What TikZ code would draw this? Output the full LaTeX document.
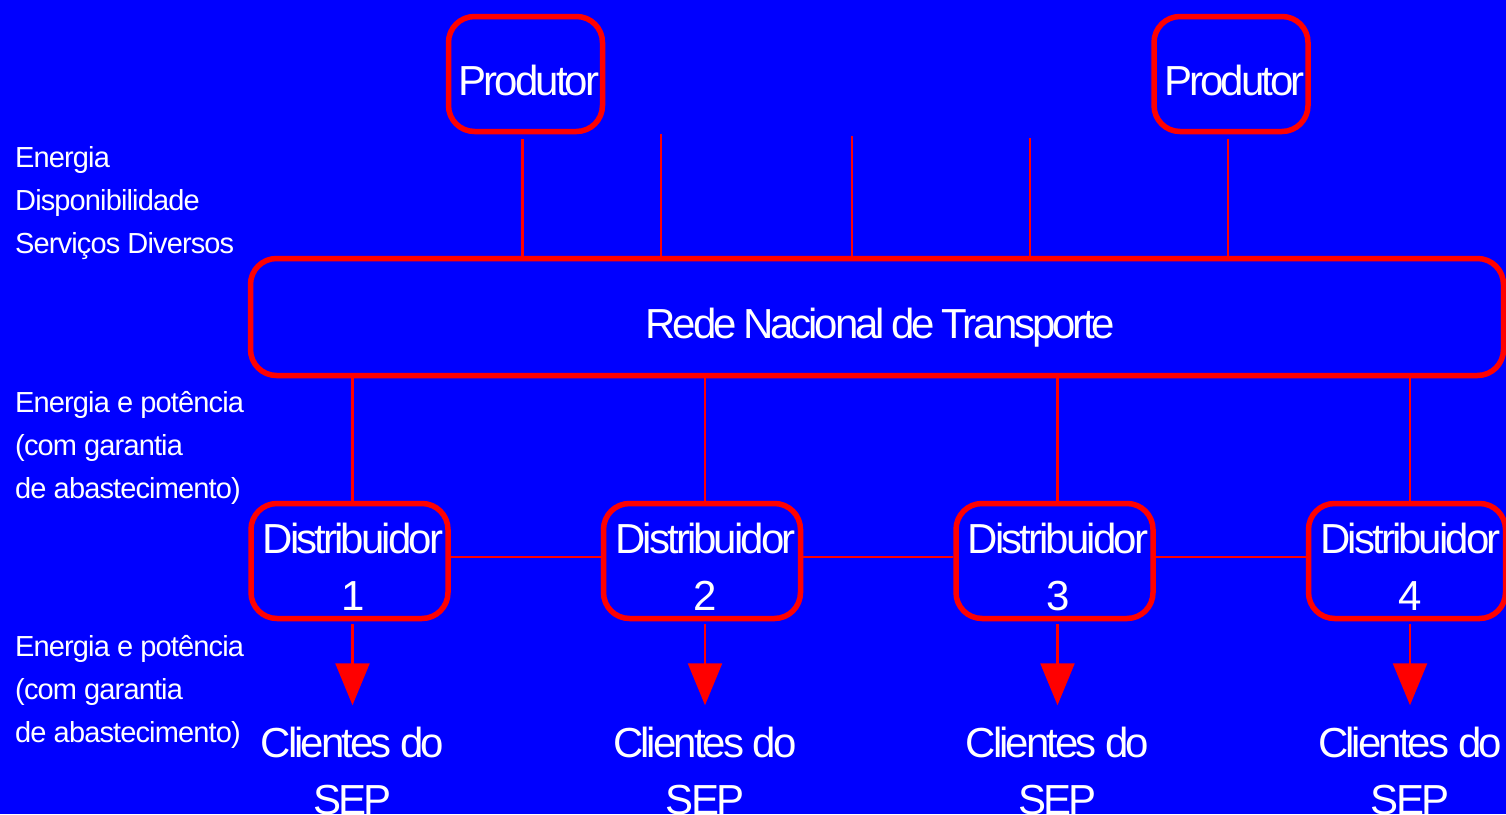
\documentclass[tikz,border=0pt]{standalone}
\usepackage{fontspec}
\setmainfont{Liberation Sans}
\usepackage{tikz}
\usetikzlibrary{arrows.meta,positioning}
\tikzset{>/.tip={Triangle[width=34pt,length=42pt]}}
\definecolor{fundo}{RGB}{0,0,255}
\definecolor{borda}{RGB}{255,0,0}
\newfontfamily\grande[LetterSpace=-7]{Liberation Sans}
\newfontfamily\grandeR[LetterSpace=-7.5,WordSpace=0.8]{Liberation Sans}
\newfontfamily\pequeno[LetterSpace=-3]{Liberation Sans}
\newcommand{\fonteG}{\grande\fontsize{42}{57}\selectfont}
\newcommand{\fonteP}{\pequeno\fontsize{29}{43}\selectfont}
\newcommand{\topo}{\rule{0pt}{42pt}}
\def\desl{\kern7pt}
\tikzset{
  caixa/.style={draw=borda,line width=5.5pt,rounded corners=26pt,fill=fundo,
    text=white,inner sep=0pt,font=\fonteG,align=center},
  caixaum/.style={caixa,text height=42pt,text depth=0pt},
  fio/.style={draw=borda,line width=2.5pt},
  seta/.style={fio,->,shorten >=10pt,shorten <=3pt},
  rotulo/.style={text=white,inner sep=0pt,font=\fonteP,align=left,anchor=north west},
  cliente/.style={text=white,inner sep=0pt,outer sep=0pt,font=\fonteG,align=center,xshift=3pt}
}

\begin{document}
\begin{tikzpicture}[x=1pt,y=-1pt]
        \fill[fundo] (0,0) rectangle (1506,814);
        \useasboundingbox (0,0) rectangle (1506,814);
        % produtores e rede
        \node(Prod1)[caixaum,minimum width=154pt,minimum height=115pt] at (525.5,74) {\desl Produtor};
        \node(Prod2)[caixaum,minimum width=154pt,minimum height=115pt] at (1231,74) {\desl Produtor};
        \node(Rede)[caixaum,minimum width=1253pt,minimum height=117pt] at (877,317) {\grandeR\desl Rede Nacional de Transporte};
        % distribuidores
        \node(Dist1)[caixa,minimum width=197pt,minimum height=115pt] at (349.5,561) {\topo\desl Distribuidor\\\desl 1};
        \node(Dist2)[caixa,minimum width=197pt,minimum height=115pt,right=150pt of Dist1] {\topo\desl Distribuidor\\\desl 2};
        \node(Dist3)[caixa,minimum width=197pt,minimum height=115pt,right=150pt of Dist2] {\topo\desl Distribuidor\\\desl 3};
        \node(Dist4)[caixa,minimum width=197pt,minimum height=115pt,right=150pt of Dist3] {\topo\desl Distribuidor\\\desl 4};
        % clientes
        \node(Cli1)[cliente,below=94pt of Dist1] {\topo Clientes do\\SEP};
        \node(Cli2)[cliente,below=94pt of Dist2] {\topo Clientes do\\SEP};
        \node(Cli3)[cliente,below=94pt of Dist3] {\topo Clientes do\\SEP};
        \node(Cli4)[cliente,below=94pt of Dist4] {\topo Clientes do\\SEP};
        % rotulos
        \node(Lab1)[rotulo] at (15,145) {\rule{0pt}{22pt}Energia\\Disponibilidade\\Serviços Diversos};
        \node(Lab2)[rotulo] at (15,390) {\rule{0pt}{22pt}Energia e potência\\(com garantia\\de abastecimento)};
        \node(Lab3)[rotulo] at (15,634) {\rule{0pt}{22pt}Energia e potência\\(com garantia\\de abastecimento)};
        % ligacoes
        \coordinate(Ramo1) at (661,134);
        \coordinate(Ramo2) at (852,136);
        \coordinate(Ramo3) at (1030,138);
        \draw[fio]
        ([xshift=-3pt,yshift=-5pt]Prod1.south) -- ([xshift=-3pt]Prod1.south |- Rede.north)
        ([xshift=-3pt,yshift=-5pt]Prod2.south) -- ([xshift=-3pt]Prod2.south |- Rede.north)
        (Ramo1) -- (Ramo1 |- Rede.north)
        (Ramo2) -- (Ramo2 |- Rede.north)
        (Ramo3) -- (Ramo3 |- Rede.north);
        \draw[fio]
        (Rede.south -| Cli1.north) -- (Dist1.north -| Cli1.north)
        (Rede.south -| Cli2.north) -- (Dist2.north -| Cli2.north)
        (Rede.south -| Cli3.north) -- (Dist3.north -| Cli3.north)
        (Rede.south -| Cli4.north) -- (Dist4.north -| Cli4.north)
        ([yshift=4pt]Dist1.east) -- ([yshift=4pt]Dist2.west)
        ([yshift=4pt]Dist2.east) -- ([yshift=4pt]Dist3.west)
        ([yshift=4pt]Dist3.east) -- ([yshift=4pt]Dist4.west);
        \draw[seta] (Dist1.south -| Cli1.north) -- (Cli1.north);
        \draw[seta] (Dist2.south -| Cli2.north) -- (Cli2.north);
        \draw[seta] (Dist3.south -| Cli3.north) -- (Cli3.north);
        \draw[seta] (Dist4.south -| Cli4.north) -- (Cli4.north);
      \end{tikzpicture}
\end{document}
